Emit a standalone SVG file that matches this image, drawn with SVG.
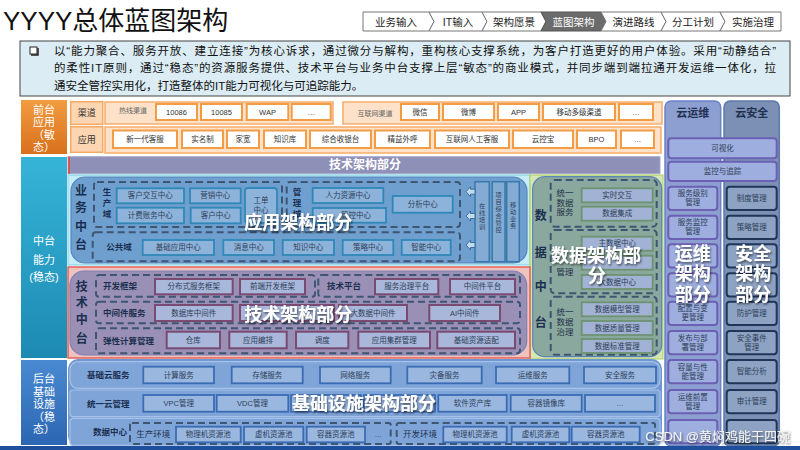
<svg xmlns="http://www.w3.org/2000/svg" width="800" height="450" viewBox="0 0 800 450">
<defs>
<style>
text{font-family:"Liberation Sans","Noto Sans CJK SC",sans-serif}
.c{text-anchor:middle;dominant-baseline:central}
.s{font-size:7.5px;fill:#2d3e57}
.so{font-size:7.5px;fill:#333}
.vt{font-size:6.2px;fill:#2d3e57}
.ov{font-size:18px;font-weight:bold;fill:#fff;text-anchor:middle;filter:url(#sh)}
.vl{font-size:12px;font-weight:bold;fill:#1b2f50;text-anchor:middle;dominant-baseline:central}
.gl{font-size:8.5px;font-weight:bold;fill:#1b2f50}
.dash{fill:none;stroke:#3e5671;stroke-width:2;stroke-dasharray:7 4}
.fo{fill:#fff;stroke:#f39b45;stroke-width:2}
.fb{fill:#8db3da;stroke:#2f88b7;stroke-width:1.8}
.fd{fill:#a2b2d4;stroke:#6e9372;stroke-width:1.8}
.ft{fill:#a8b7da;stroke:#7a4b72;stroke-width:2}
.fi{fill:#9ab7e0;stroke:#3b6cb3;stroke-width:1.8}
.fp{fill:#9eaede;stroke:#6b60b3;stroke-width:2}
.fs{fill:#8ea2c3;stroke:#1f3658;stroke-width:2}
.nav{fill:#fff;stroke:#777;stroke-width:1}
.nt{font-size:10.5px;fill:#222;text-anchor:middle;dominant-baseline:central}
.lab{font-size:11px;fill:#fff;text-anchor:middle;dominant-baseline:central}
.arr{fill:#c4dcf0;stroke:#3b6c9a;stroke-width:1}
</style>
<linearGradient id="gO" x1="0" y1="0" x2="0" y2="1"><stop offset="0" stop-color="#f39c40"/><stop offset="1" stop-color="#d8701c"/></linearGradient>
<linearGradient id="gT" x1="0" y1="0" x2="0" y2="1"><stop offset="0" stop-color="#36b4d8"/><stop offset="1" stop-color="#1d8ab2"/></linearGradient>
<linearGradient id="gB" x1="0" y1="0" x2="0" y2="1"><stop offset="0" stop-color="#4a8ad2"/><stop offset="1" stop-color="#2c66b3"/></linearGradient>
<filter id="sh" x="-10%" y="-20%" width="125%" height="150%"><feDropShadow dx="1" dy="1.5" stdDeviation="1" flood-color="#000" flood-opacity="0.6"/></filter>
</defs>
<rect width="800" height="450" fill="#fff"/>

<g id="title"><text x="3" y="30" font-size="26" fill="#111">YYYY总体蓝图架构</text></g>

<g id="nav">
<polygon class="nav" points="363,12 429,12 434,21.5 429,31 363,31"/><text class="nt" x="396" y="21.5">业务输入</text>
<polygon class="nav" points="429,12 482,12 487,21.5 482,31 429,31 434,21.5"/><text class="nt" x="458" y="21.5">IT输入</text>
<polygon class="nav" points="482,12 541,12 546,21.5 541,31 482,31 487,21.5"/><text class="nt" x="514" y="21.5">架构愿景</text>
<polygon points="541,12 601,12 606,21.5 601,31 541,31 546,21.5" fill="#6b6b6b" stroke="#555"/><text class="nt" x="573.5" y="21.5" style="fill:#fff">蓝图架构</text>
<polygon class="nav" points="601,12 661,12 666,21.5 661,31 601,31 606,21.5"/><text class="nt" x="633.5" y="21.5">演进路线</text>
<polygon class="nav" points="661,12 720,12 725,21.5 720,31 661,31 666,21.5"/><text class="nt" x="693" y="21.5">分工计划</text>
<polygon class="nav" points="720,12 781,12 781,31 720,31 725,21.5"/><text class="nt" x="753" y="21.5">实施治理</text>
</g>

<g id="desc">
<rect x="20" y="41" width="770" height="55" fill="#dbecf4" stroke="#444" stroke-width="1"/>
<rect x="30" y="47" width="7" height="7" fill="#fff" stroke="#222" stroke-width="1"/>
<path d="M31 55 H38 V48" fill="none" stroke="#222" stroke-width="1.5"/>
<g font-size="11.5" fill="#111">
<text x="54" y="54.5" textLength="722" lengthAdjust="spacing">以“能力聚合、服务开放、建立连接”为核心诉求，通过微分与解构，重构核心支撑系统，为客户打造更好的用户体验。采用“动静结合”</text>
<text x="54" y="72" textLength="722" lengthAdjust="spacing">的柔性IT原则，通过“稳态”的资源服务提供、技术平台与业务中台支撑上层“敏态”的商业模式，并同步端到端拉通开发运维一体化，拉</text>
<text x="54" y="89.5">通安全管控实用化，打造整体的IT能力可视化与可追踪能力。</text>
</g>
</g>

<g id="front-label">
<rect x="21" y="100" width="46" height="54" fill="url(#gO)"/>
<text class="lab" x="44" y="110">前台</text><text class="lab" x="44" y="122">应用</text><text class="lab" x="44" y="134.5">（敏</text><text class="lab" x="44" y="146.5">态）</text>
</g>
<g id="middle-label">
<rect x="21" y="157" width="46" height="201" fill="url(#gT)"/>
<text class="lab" x="44" y="241">中台</text><text class="lab" x="44" y="260">能力</text><text class="lab" x="44" y="277">(稳态)</text>
</g>
<g id="back-label">
<rect x="21" y="360" width="46" height="85" fill="url(#gB)"/>
<text class="lab" x="44" y="379">后台</text><text class="lab" x="44" y="391.5">基础</text><text class="lab" x="44" y="404">设施</text><text class="lab" x="44" y="416.5">（稳</text><text class="lab" x="44" y="429">态）</text>
</g>

<g id="channel">
<rect x="70.7" y="101.7" width="32" height="22.6" fill="#fcd5b2" stroke="#f4a860" stroke-width="1.5"/>
<text class="c" x="86.7" y="113" font-size="9" fill="#333">渠道</text>
<rect x="105" y="102" width="228" height="22" fill="#fde2c9" stroke="#f6ad6a" stroke-width="1.5"/>
<text class="c" x="133" y="110.5" font-size="7" fill="#666">热线渠道</text>
<rect class="fo" x="156" y="104" width="41" height="16"/><text class="c so" x="176.5" y="112">10086</text>
<rect class="fo" x="201" y="104" width="41" height="16"/><text class="c so" x="221.5" y="112">10085</text>
<rect class="fo" x="246.7" y="104" width="41.6" height="16"/><text class="c so" x="267.5" y="112">WAP</text>
<rect class="fo" x="291.7" y="104" width="39" height="16"/><text class="c so" x="311.2" y="112">…</text>
<rect x="343" y="102" width="319" height="22" fill="#fde2c9" stroke="#f6ad6a" stroke-width="1.5"/>
<text class="c" x="375" y="113" font-size="7" fill="#666">互联网渠道</text>
<rect class="fo" x="401" y="104" width="38" height="16"/><text class="c so" x="420" y="112">微信</text>
<rect class="fo" x="443" y="104" width="51" height="16"/><text class="c so" x="468.5" y="112">微博</text>
<rect class="fo" x="498" y="104" width="41" height="16"/><text class="c so" x="518.5" y="112">APP</text>
<rect class="fo" x="543" y="104" width="72" height="16"/><text class="c so" x="579" y="112">移动多级渠道</text>
<rect class="fo" x="619" y="104" width="34" height="16"/><text class="c so" x="636" y="112">…</text>
</g>
<g id="apps">
<rect x="70.7" y="126.7" width="32" height="25.6" fill="#fcd5b2" stroke="#f4a860" stroke-width="1.5"/>
<text class="c" x="86.7" y="139.5" font-size="9" fill="#333">应用</text>
<rect x="105" y="127" width="556" height="26" fill="#fde2c9" stroke="#f6ad6a" stroke-width="1.5"/>
<rect class="fo" x="113" y="130.5" width="64" height="17.5"/><text class="c so" x="145" y="139.2">新一代客服</text>
<rect class="fo" x="182" y="130.5" width="41" height="17.5"/><text class="c so" x="202.5" y="139.2">实名制</text>
<rect class="fo" x="227" y="130.5" width="32" height="17.5"/><text class="c so" x="243" y="139.2">家宽</text>
<rect class="fo" x="264" y="130.5" width="42" height="17.5"/><text class="c so" x="285" y="139.2">知识库</text>
<rect class="fo" x="310" y="130.5" width="61" height="17.5"/><text class="c so" x="340.5" y="139.2">综合收银台</text>
<rect class="fo" x="375" y="130.5" width="55" height="17.5"/><text class="c so" x="402.5" y="139.2">精益外呼</text>
<rect class="fo" x="435" y="130.5" width="74" height="17.5"/><text class="c so" x="472" y="139.2">互联网人工客服</text>
<rect class="fo" x="513" y="130.5" width="60" height="17.5"/><text class="c so" x="543" y="139.2">云控宝</text>
<rect class="fo" x="577" y="130.5" width="39" height="17.5"/><text class="c so" x="596.5" y="139.2">BPO</text>
<rect class="fo" x="621" y="130.5" width="33" height="17.5"/><text class="c so" x="637.5" y="139.2">…</text>
</g>

<g id="tech-header">
<rect x="68" y="156.7" width="592" height="17" fill="#8f90b8" stroke="#a7a9cc" stroke-width="1"/>
<rect x="68" y="156.7" width="2" height="17" fill="#d9534f"/>
<text x="365" y="165.2" class="c" font-size="12" font-weight="bold" fill="#fff">技术架构部分</text>
</g>

<g id="biz-middle">
<rect x="68" y="175" width="462" height="90" fill="#c6ecf6" stroke="#7ccfe3" stroke-width="1"/>
<rect x="71" y="177" width="456" height="86" rx="14" fill="#6f9fcf" stroke="#5486c0" stroke-width="1.2"/>
<text class="vl" x="81" y="191">业</text><text class="vl" x="81" y="208">务</text><text class="vl" x="81" y="227">中</text><text class="vl" x="81" y="245">台</text>
<rect class="dash" x="94" y="182" width="188" height="45" rx="3"/>
<text class="c gl" x="107" y="192">生</text><text class="c gl" x="107" y="203">产</text><text class="c gl" x="107" y="214">域</text>
<rect class="fb" x="116.7" y="188.3" width="67.3" height="15"/><text class="c s" x="150.3" y="195.8">客户交互中心</text>
<rect class="fb" x="190" y="188.3" width="50.7" height="15"/><text class="c s" x="215.3" y="195.8">营销中心</text>
<rect class="fb" x="116.7" y="207.7" width="67.3" height="15.6"/><text class="c s" x="150.3" y="215.5">计费账务中心</text>
<rect class="fb" x="190.7" y="207.7" width="50" height="15.6"/><text class="c s" x="215.7" y="215.5">客户中心</text>
<rect class="fb" x="245" y="188" width="32" height="35" rx="3"/><text class="c s" x="261" y="200.5">工单</text><text class="c s" x="261" y="210">中心</text>
<rect class="dash" x="286.7" y="182" width="173.3" height="45" rx="3"/>
<text class="c gl" x="297" y="192">管</text><text class="c gl" x="297" y="203">理</text><text class="c gl" x="297" y="214">域</text>
<rect class="fb" x="312.7" y="188" width="70.6" height="15"/><text class="c s" x="348" y="195.5">人力资源中心</text>
<rect class="fb" x="312.7" y="208" width="73.3" height="14.7"/><text class="c s" x="356" y="215.3">管控中心</text>
<rect class="fb" x="392.7" y="196" width="60" height="16.7"/><text class="c s" x="422.7" y="204.3">分析中心</text>
<rect class="dash" x="92.7" y="232.3" width="367.3" height="29" rx="3"/>
<text class="c gl" x="119" y="247">公共域</text>
<rect class="fb" x="142.7" y="240" width="71.3" height="15"/><text class="c s" x="178.3" y="247.5">基础应用中心</text>
<rect class="fb" x="223.3" y="240" width="50.7" height="15"/><text class="c s" x="248.7" y="247.5">消息中心</text>
<rect class="fb" x="282.7" y="240" width="51.3" height="15"/><text class="c s" x="308.3" y="247.5">知识中心</text>
<rect class="fb" x="342.7" y="240" width="50.6" height="15"/><text class="c s" x="368" y="247.5">策略中心</text>
<rect class="fb" x="401.7" y="240" width="49" height="15"/><text class="c s" x="426.2" y="247.5">智能中心</text>
<rect x="475" y="181.7" width="14.3" height="80" fill="#84abd4" stroke="#3779a8" stroke-width="1.5"/>
<rect x="492.2" y="181.7" width="12.8" height="80" fill="#84abd4" stroke="#3779a8" stroke-width="1.5"/>
<rect x="506.7" y="181.7" width="12.6" height="80" fill="#84abd4" stroke="#3779a8" stroke-width="1.5"/>
<g class="vt">
<text class="c" x="482.2" y="205.5">在</text><text class="c" x="482.2" y="212.5">线</text><text class="c" x="482.2" y="219.5">培</text><text class="c" x="482.2" y="226.5">训</text>
<text class="c" x="498.6" y="194.5">项</text><text class="c" x="498.6" y="201.5">目</text><text class="c" x="498.6" y="208.5">综</text><text class="c" x="498.6" y="215.5">合</text><text class="c" x="498.6" y="222.5">管</text><text class="c" x="498.6" y="229.5">控</text>
<text class="c" x="513" y="204">移</text><text class="c" x="513" y="211">动</text><text class="c" x="513" y="218">业</text><text class="c" x="513" y="225">务</text>
</g>
<text class="ov" x="298.3" y="228.5">应用架构部分</text>
</g>

<g id="connectors">
<polygon class="arr" points="466,191.7 470.5,186.7 470.5,189.2 475,189.2 475,194.2 470.5,194.2 470.5,196.7"/>
<polygon class="arr" points="466,216 470.5,211 470.5,213.5 475,213.5 475,218.5 470.5,218.5 470.5,221"/>
<polygon class="arr" points="466,245 470.5,240 470.5,242.5 475,242.5 475,247.5 470.5,247.5 470.5,250"/>
</g>

<g id="data-middle">
<rect x="530" y="175" width="133" height="184" fill="#d5e7b3" stroke="#a9cf5c" stroke-width="1"/>
<rect x="532.7" y="176.7" width="129" height="180" rx="12" fill="#8aa89e" stroke="#5e84b5" stroke-width="1.2"/>
<text class="vl" x="540.7" y="215.7">数</text><text class="vl" x="540.7" y="253">据</text><text class="vl" x="540.7" y="287">中</text><text class="vl" x="540.7" y="323">台</text>
<rect class="dash" x="550.7" y="180" width="106" height="46.7" rx="4"/>
<rect class="dash" x="550.7" y="230" width="106" height="63.3" rx="4"/>
<rect class="dash" x="550.7" y="296.7" width="106" height="58" rx="4"/>
<g font-size="8.5" fill="#1f2f48">
<text class="c" x="565" y="193">统一</text><text class="c" x="565" y="202.5">数据</text><text class="c" x="565" y="212">服务</text>
<text class="c" x="565" y="271.5">管理</text>
<text class="c" x="565" y="311.7">统一</text><text class="c" x="565" y="321.7">数据</text><text class="c" x="565" y="331.7">治理</text>
</g>
<rect class="fd" x="581.7" y="188.3" width="71" height="14"/><text class="c s" x="617.2" y="195.3">实时交互</text>
<rect class="fd" x="581.7" y="206.7" width="71" height="14"/><text class="c s" x="617.2" y="213.7">数据集成</text>
<rect class="fd" x="581.7" y="236.7" width="71" height="14"/><text class="c s" x="617.2" y="243.7">主数据中心</text>
<rect class="fd" x="581.7" y="255.7" width="71" height="14"/>
<rect class="fd" x="581.7" y="275" width="71" height="14"/><text class="c s" x="617.2" y="282">大数据中心</text>
<rect class="fd" x="581.7" y="302.3" width="71" height="14"/><text class="c s" x="617.2" y="309.3">数据模型管理</text>
<rect class="fd" x="581.7" y="321" width="71" height="14"/><text class="c s" x="617.2" y="328">数据质量管理</text>
<rect class="fd" x="581.7" y="339" width="71" height="14"/><text class="c s" x="617.2" y="346">数据标准管理</text>
<text class="ov" x="596" y="261.5">数据架构部</text>
<text class="ov" x="596.7" y="281.5">分</text>
</g>

<g id="tech-middle">
<rect x="68" y="267" width="462" height="91" fill="#f0c2bd" stroke="#e0605a" stroke-width="1.5"/>
<rect x="70" y="271" width="456.7" height="84" rx="14" fill="#9a8fb5" stroke="#7f80b8" stroke-width="1.2"/>
<text class="vl" x="81.7" y="287">技</text><text class="vl" x="81.7" y="302.5">术</text><text class="vl" x="81.7" y="320">中</text><text class="vl" x="81.7" y="339">台</text>
<rect class="dash" x="96" y="275" width="219" height="21.7" rx="3"/>
<rect class="dash" x="318.3" y="275" width="201.7" height="21.7" rx="3"/>
<rect class="dash" x="96" y="301.7" width="424" height="21.6" rx="3"/>
<rect class="dash" x="96" y="328.3" width="424" height="25" rx="3"/>
<g class="gl" font-size="8">
<text x="103" y="286" dominant-baseline="central">开发框架</text>
<text x="327" y="286" dominant-baseline="central">技术平台</text>
<text x="103" y="312.5" dominant-baseline="central">中间件服务</text>
<text x="103" y="341" dominant-baseline="central">弹性计算管理</text>
</g>
<rect class="ft" x="155" y="279" width="77.7" height="15.3"/><text class="c s" x="193.8" y="286.7">分布式服务框架</text>
<rect class="ft" x="240" y="279" width="65" height="15.3"/><text class="c s" x="272.5" y="286.7">前端开发框架</text>
<rect class="ft" x="375" y="279" width="63.3" height="15.3"/><text class="c s" x="406.7" y="286.7">服务治理平台</text>
<rect class="ft" x="450" y="279" width="65" height="15.3"/><text class="c s" x="482.5" y="286.7">中间件平台</text>
<rect class="ft" x="155" y="305" width="77.7" height="16"/><text class="c s" x="193.8" y="313">数据库中间件</text>
<rect class="ft" x="240" y="305" width="94" height="16"/>
<rect class="ft" x="339" y="305" width="68" height="16"/><text class="c s" x="373" y="313">大数据中间件</text>
<rect class="ft" x="429.3" y="305" width="70.7" height="16"/><text class="c s" x="464.7" y="313">AI中间件</text>
<rect class="ft" x="166.7" y="331.7" width="53.3" height="16.6"/><text class="c s" x="193.3" y="340">仓库</text>
<rect class="ft" x="229.3" y="331.7" width="57.4" height="16.6"/><text class="c s" x="258" y="340">应用编排</text>
<rect class="ft" x="296" y="331.7" width="52.3" height="16.6"/><text class="c s" x="322.2" y="340">调度</text>
<rect class="ft" x="358.3" y="331.7" width="71.7" height="16.6"/><text class="c s" x="394.2" y="340">应用集群管理</text>
<rect class="ft" x="437.3" y="331.7" width="77.7" height="16.6"/><text class="c s" x="476.2" y="340">基础资源适配</text>
<text class="ov" x="298.3" y="320.5">技术架构部分</text>
</g>

<g id="infra">
<rect x="68" y="359" width="594" height="87" rx="10" fill="#6f98d2"/>
<rect x="70" y="361.7" width="590" height="26.6" rx="8" fill="#7fa4d8" stroke="#a6c2e8" stroke-width="1.2"/>
<rect x="70" y="390" width="590" height="26.7" rx="3" fill="#7fa4d8" stroke="#a6c2e8" stroke-width="1.2"/>
<rect x="70" y="418.3" width="590" height="27" rx="3" fill="#7fa4d8" stroke="#a6c2e8" stroke-width="1.2"/>
<text class="c gl" x="108.3" y="375">基础云服务</text>
<text class="c gl" x="108.3" y="403.5">统一云管理</text>
<text class="c gl" x="110" y="432">数据中心</text>
<rect class="fi" x="143.3" y="366.7" width="70.7" height="16.6"/><text class="c s" x="178.7" y="375">计算服务</text>
<rect class="fi" x="231.7" y="366.7" width="71" height="16.6"/><text class="c s" x="267.2" y="375">存储服务</text>
<rect class="fi" x="320" y="366.7" width="70.7" height="16.6"/><text class="c s" x="355.3" y="375">网络服务</text>
<rect class="fi" x="407.3" y="366.7" width="74.4" height="16.6"/><text class="c s" x="444.5" y="375">灾备服务</text>
<rect class="fi" x="496" y="366.7" width="73.3" height="16.6"/><text class="c s" x="532.7" y="375">运维服务</text>
<rect class="fi" x="584" y="366.7" width="72" height="16.6"/><text class="c s" x="620" y="375">安全服务</text>
<rect class="fi" x="143.3" y="395" width="70.7" height="16.7"/><text class="c s" x="178.7" y="403.3">VPC管理</text>
<rect class="fi" x="216.7" y="395" width="71.6" height="16.7"/><text class="c s" x="252.5" y="403.3">VDC管理</text>
<rect class="fi" x="291" y="395" width="70" height="16.7"/>
<rect class="fi" x="364" y="395" width="71" height="16.7"/>
<rect class="fi" x="438.3" y="395" width="68.4" height="16.7"/><text class="c s" x="472.5" y="403.3">软件资产库</text>
<rect class="fi" x="510.7" y="395" width="71" height="16.7"/><text class="c s" x="546.2" y="403.3">容器镜像库</text>
<rect class="fi" x="585" y="395" width="70" height="16.7"/><text class="c s" x="620" y="403.3">…</text>
<rect class="dash" x="130" y="423" width="260.7" height="21" rx="2"/>
<rect class="dash" x="396.7" y="423" width="258.3" height="21" rx="2"/>
<text class="c" x="153.3" y="433.5" font-size="8.5" fill="#22324d">生产环境</text>
<text class="c" x="420" y="433.5" font-size="8.5" fill="#22324d">开发环境</text>
<rect class="fi" x="176" y="426.7" width="64.7" height="15.6"/><text class="c s" x="208.3" y="434.5">物理机资源池</text>
<rect class="fi" x="244" y="426.7" width="59.3" height="15.6"/><text class="c s" x="273.7" y="434.5">虚机资源池</text>
<rect class="fi" x="306.7" y="426.7" width="58.3" height="15.6"/><text class="c s" x="335.8" y="434.5">容器资源池</text>
<text class="c s" x="378.3" y="434.5">…</text>
<rect class="fi" x="443.3" y="426.7" width="63.4" height="15.6"/><text class="c s" x="475" y="434.5">物理机资源池</text>
<rect class="fi" x="511.7" y="426.7" width="57.6" height="15.6"/><text class="c s" x="540.5" y="434.5">虚机资源池</text>
<rect class="fi" x="571.7" y="426.7" width="68" height="15.6"/><text class="c s" x="605.7" y="434.5">容器资源池</text>
<text class="ov" x="364" y="410">基础设施架构部分</text>
</g>

<g id="cloud-ops">
<rect x="665" y="101" width="55.7" height="345" rx="6" fill="#8d9fd1" stroke="#6a83c6" stroke-width="1.5"/>
<text x="692.8" y="113.3" class="c" font-size="11" font-weight="bold" fill="#1f3050">云运维</text>
</g>
<g id="cloud-sec">
<rect x="724" y="101" width="55.3" height="345" rx="6" fill="#7b90b4" stroke="#5d7aa8" stroke-width="1.5"/>
<text x="751.7" y="113.3" class="c" font-size="11" font-weight="bold" fill="#1f3050">云安全</text>
</g>
<g id="shared">
<rect class="fp" x="668.3" y="138.3" width="108.4" height="20" rx="3"/><text class="c s" x="722.5" y="148.3">可视化</text>
<rect class="fp" x="668.3" y="161.7" width="108.4" height="19.3" rx="3"/><text class="c s" x="722.5" y="171.3">监控与追踪</text>
</g>
<g id="ops-items">
<rect class="fp" x="668.3" y="186.7" width="49" height="23.3" rx="3"/><text class="c s" x="692.8" y="193.8">服务级别</text><text class="c s" x="692.8" y="202.8">管理</text>
<rect class="fp" x="668.3" y="215.7" width="49" height="23.3" rx="3"/><text class="c s" x="692.8" y="222.8">服务监控</text><text class="c s" x="692.8" y="231.8">管理</text>
<rect class="fp" x="668.3" y="244.3" width="49" height="23.3" rx="3"/>
<rect class="fp" x="668.3" y="273.3" width="49" height="23.3" rx="3"/>
<rect class="fp" x="668.3" y="301.7" width="49" height="23.3" rx="3"/><text class="c s" x="692.8" y="308.8">配置与变</text><text class="c s" x="692.8" y="317.8">更管理</text>
<rect class="fp" x="668.3" y="331" width="49" height="23.3" rx="3"/><text class="c s" x="692.8" y="338.1">发布与部</text><text class="c s" x="692.8" y="347.1">署管理</text>
<rect class="fp" x="668.3" y="360" width="49" height="23.3" rx="3"/><text class="c s" x="692.8" y="367.1">容量与性</text><text class="c s" x="692.8" y="376.1">能管理</text>
<rect class="fp" x="668.3" y="390" width="49" height="23.3" rx="3"/><text class="c s" x="692.8" y="397.1">运维前置</text><text class="c s" x="692.8" y="406.1">管理</text>
<rect class="fp" x="668.3" y="420" width="49" height="23.3" rx="3"/>
<text class="ov" x="692.8" y="259.8">运维</text><text class="ov" x="692.8" y="280.3">架构</text><text class="ov" x="692.8" y="300.8">部分</text>
</g>
<g id="sec-items">
<rect class="fs" x="726.7" y="186.7" width="50" height="23.3" rx="3"/><text class="c s" x="751.7" y="198.3">制度管理</text>
<rect class="fs" x="726.7" y="215.7" width="50" height="23.3" rx="3"/><text class="c s" x="751.7" y="227.3">策略管理</text>
<rect class="fs" x="726.7" y="244.3" width="50" height="23.3" rx="3"/>
<rect class="fs" x="726.7" y="273.3" width="50" height="23.3" rx="3"/>
<rect class="fs" x="726.7" y="301.7" width="50" height="23.3" rx="3"/><text class="c s" x="751.7" y="313.3">防护管理</text>
<rect class="fs" x="726.7" y="331" width="50" height="23.3" rx="3"/><text class="c s" x="751.7" y="338.1">安全事件</text><text class="c s" x="751.7" y="347.1">管理</text>
<rect class="fs" x="726.7" y="360" width="50" height="23.3" rx="3"/><text class="c s" x="751.7" y="371.7">智能分析</text>
<rect class="fs" x="726.7" y="390" width="50" height="23.3" rx="3"/><text class="c s" x="751.7" y="401.7">审计管理</text>
<rect class="fs" x="726.7" y="420" width="50" height="23.3" rx="3"/>
<text class="ov" x="753.3" y="259.8">安全</text><text class="ov" x="753.3" y="280.3">架构</text><text class="ov" x="753.3" y="300.8">部分</text>
</g>

<rect x="0" y="446" width="800" height="4" fill="#1e4f9c"/>
<text x="790" y="441" text-anchor="end" font-size="13" fill="#f2f2f2" filter="url(#sh)">CSDN @黄焖鸡能干四碗</text>
</svg>
